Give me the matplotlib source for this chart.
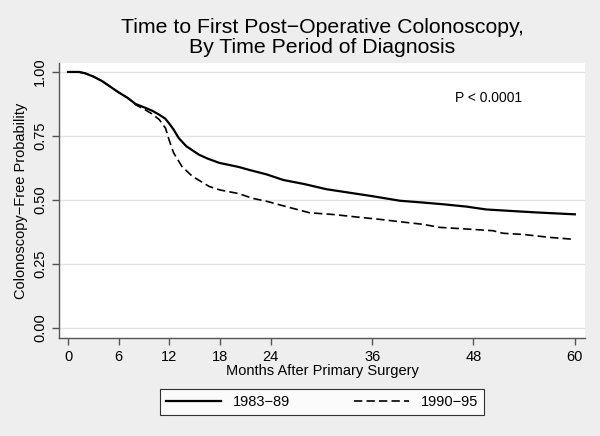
import numpy as np
import matplotlib
matplotlib.use("Agg")
import matplotlib.pyplot as plt

plt.rcParams['font.family'] = ['Liberation Sans', 'DejaVu Sans']

# survival estimates
months_a = [0, 1.3, 2, 3, 4, 4.85, 6, 7, 7.6, 8, 9, 10, 10.8, 11.5, 11.95, 12.5, 13.1,
            14, 15.5, 16.5, 17.9, 20.2, 21.5, 23.5, 25.5, 28, 30.6, 33.8, 36, 39.3,
            42, 44.5, 47.2, 49.5, 52, 55.1, 57.5, 60]
surv_a = [1.0, 1.0, 0.995, 0.982, 0.965, 0.946, 0.92, 0.90, 0.885, 0.875, 0.862, 0.848,
          0.833, 0.818, 0.80, 0.775, 0.742, 0.71, 0.677, 0.662, 0.645, 0.629, 0.617,
          0.60, 0.578, 0.562, 0.542, 0.526, 0.515, 0.497, 0.49, 0.483, 0.474, 0.463,
          0.458, 0.452, 0.448, 0.444]

months_b = [0, 1.3, 2, 3, 4, 4.85, 6, 7, 7.6, 8, 9, 10, 10.8, 11.55, 11.95, 12.5, 13.5,
            14.7, 16.7, 18, 20.2, 21.9, 23.5, 25.5, 28.6, 31.5, 34.6, 37, 39.3, 42, 44,
            47, 50.3, 51.5, 54, 57, 60]
surv_b = [1.0, 1.0, 0.995, 0.982, 0.965, 0.946, 0.92, 0.90, 0.885, 0.872, 0.855, 0.835,
          0.814, 0.78, 0.736, 0.684, 0.63, 0.593, 0.553, 0.539, 0.525, 0.506, 0.495,
          0.477, 0.45, 0.443, 0.432, 0.424, 0.415, 0.405, 0.393, 0.387, 0.38, 0.37,
          0.365, 0.354, 0.346]

labels = ["1983\u221289", "1990\u221295"]
xticks = [0, 6, 12, 18, 24, 36, 48, 60]
yticks = [0.0, 0.25, 0.5, 0.75, 1.0]

bg = "#eeeeee"
fig = plt.figure(figsize=(6, 4.36), dpi=100, facecolor=bg)
ax = fig.add_axes([0.0983, 0.2248, 0.8767, 0.6307])
ax.set_facecolor("white")

ax.plot(months_a, surv_a, color="black", lw=1.6, label=labels[0])
ax.plot(months_b, surv_b, color="black", lw=1.2, dashes=(5, 2.5), label=labels[1])

ax.set_xlim(-1.07, 61.2)
ax.set_ylim(-0.039, 1.035)
ax.set_xticks(xticks)
ax.set_yticks(yticks)
ax.set_yticklabels(["0.00", "0.25", "0.50", "0.75", "1.00"], rotation=90, va="center")
ax.yaxis.grid(True, color="#e2e2e2", lw=1)
ax.set_axisbelow(True)
for s in ["top", "right"]:
    ax.spines[s].set_visible(False)
for s in ["left", "bottom"]:
    ax.spines[s].set_color("#555555")
    ax.spines[s].set_linewidth(1)
ax.tick_params(colors="#555555", labelcolor="black", labelsize=10.5, length=5, width=1)

ax.set_xlabel("Months After Primary Surgery", fontsize=10.5, labelpad=0)
ax.set_ylabel("Colonoscopy\u2212Free Probability", fontsize=10.5, labelpad=4)
ax.set_title("Time to First Post\u2212Operative Colonoscopy,\nBy Time Period of Diagnosis",
             fontsize=15.3, linespacing=1.08, pad=7)

ax.text(45.8, 0.898, "P < 0.0001", fontsize=10, ha="left", va="center")

leg = fig.legend(loc="lower left", bbox_to_anchor=(0.2667, 0.048, 0.54, 0.064),
                 mode="expand", ncol=2, fontsize=10.5, handlelength=3.8,
                 frameon=True, fancybox=False, borderaxespad=0)
leg.get_frame().set_edgecolor("black")
leg.get_frame().set_facecolor("white")
leg.get_frame().set_linewidth(0.8)

fig.savefig("out.png", dpi=100, facecolor=bg)
